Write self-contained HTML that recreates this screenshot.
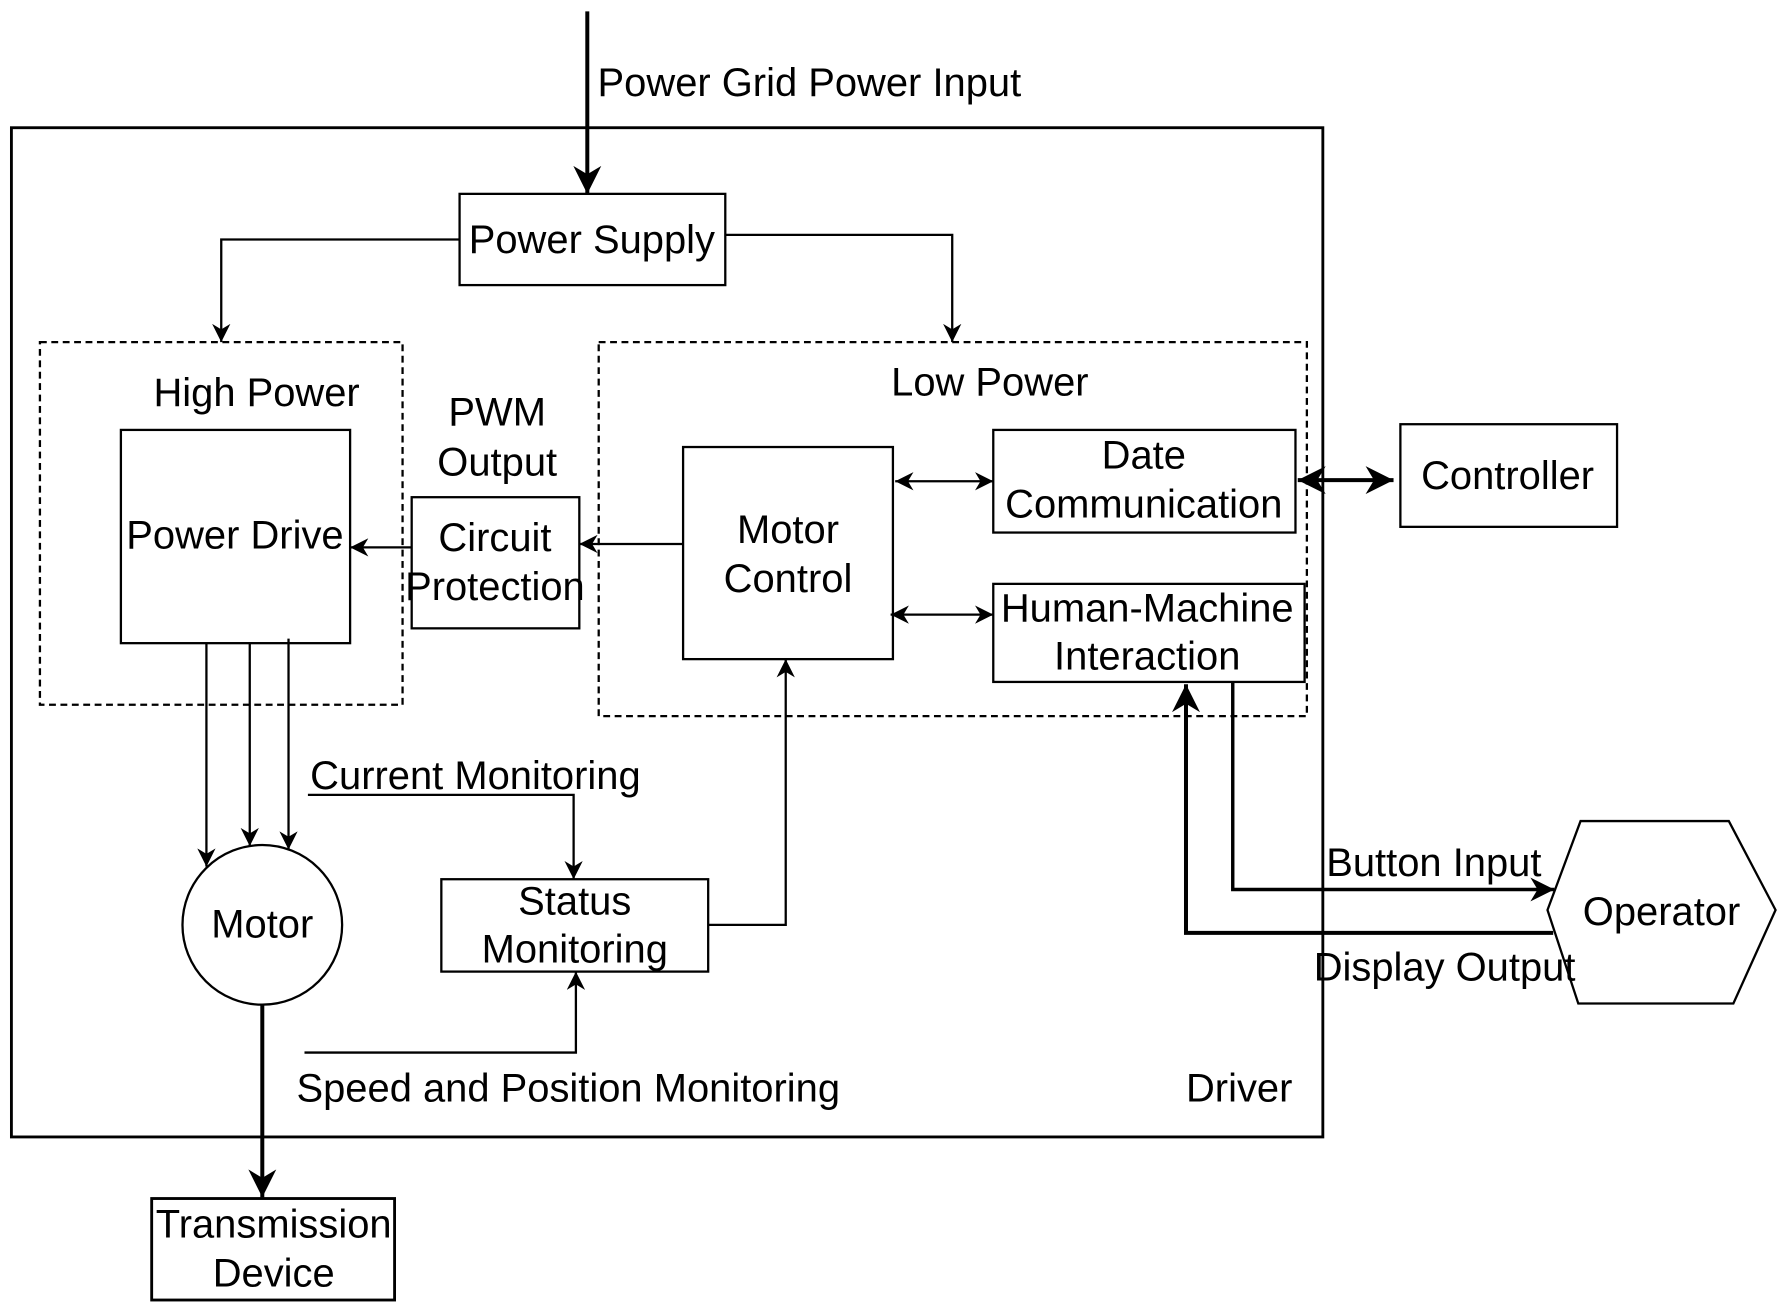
<!DOCTYPE html>
<html><head><style>html,body{margin:0;padding:0;background:#fff}svg{display:block}text{font-family:"Liberation Sans",Arial,Helvetica,sans-serif;font-size:35px;fill:#000}</style></head>
<body>
<svg width="1779" height="1308" viewBox="0 0 1560 1147" xmlns="http://www.w3.org/2000/svg" font-family="Liberation Sans, Arial, sans-serif">
<defs>
<marker id="b" viewBox="0 0 10 10" refX="10" refY="5" markerWidth="7" markerHeight="7" orient="auto-start-reverse"><path d="M0,0 L10,5 L0,10 L3,5z" fill="#000"/></marker>
<marker id="s" viewBox="0 0 10 10" refX="10" refY="5" markerWidth="16" markerHeight="16" markerUnits="userSpaceOnUse" orient="auto-start-reverse"><path d="M0,0 L10,5 L0,10 L3,5z" fill="#000"/></marker>
</defs>
<g fill="none" stroke="#000">
<rect x="10" y="112" width="1150" height="885" stroke-width="2.5"/>
<rect x="35" y="300" width="318" height="318" stroke-width="2" stroke-dasharray="6,4"/>
<rect x="525" y="300" width="621" height="328" stroke-width="2" stroke-dasharray="6,4"/>
<g stroke-width="2">
<rect x="403" y="170" width="233" height="80"/>
<rect x="106" y="377" width="201" height="187"/>
<rect x="361" y="436" width="147" height="115"/>
<rect x="599" y="392" width="184" height="186"/>
<rect x="871" y="377" width="265" height="90"/>
<rect x="871" y="512" width="273" height="86"/>
<rect x="1228" y="372" width="190" height="90"/>
<rect x="387" y="771" width="234" height="81"/>
<rect x="133" y="1051" width="213" height="89" stroke-width="2.5"/>
<circle cx="230" cy="811" r="70"/>
<polygon points="1357,798 1386,720 1516,720 1557,798 1520,880 1384,880"/>
</g>
<g stroke-width="2">
<path d="M403,210 H194 V300" marker-end="url(#s)"/>
<path d="M636,206 H835 V300" marker-end="url(#s)"/>
<path d="M361,480 H307" marker-end="url(#s)"/>
<path d="M599,477 H508" marker-end="url(#s)"/>
<path d="M785,422 H871" marker-start="url(#s)" marker-end="url(#s)"/>
<path d="M781,539 H871" marker-start="url(#s)" marker-end="url(#s)"/>
<path d="M181,564 V760" marker-end="url(#s)"/>
<path d="M219,564 V742" marker-end="url(#s)"/>
<path d="M253,560 V745" marker-end="url(#s)"/>
<path d="M270,697 H503 V771" marker-end="url(#s)"/>
<path d="M621,811 H689 V578" marker-end="url(#s)"/>
<path d="M267,923 H505 V852" marker-end="url(#s)"/>
</g>
<g stroke-width="3.5">
<path d="M515,10 V170" marker-end="url(#b)"/>
<path d="M1138,421 H1222" marker-start="url(#b)" marker-end="url(#b)"/>
<path d="M230,881 V1050" marker-end="url(#b)"/>
<path d="M1081,598 V780 H1363" stroke-width="3" marker-end="url(#b)"/>
<path d="M1362,818 H1040 V600" marker-end="url(#b)"/>
</g>
</g>
<text x="524" y="84">Power Grid Power Input</text>
<g text-anchor="middle">
<text x="519" y="222">Power Supply</text>
<text x="225" y="356">High Power</text>
<text x="206" y="481">Power Drive</text>
<text x="436" y="373">PWM</text>
<text x="436" y="417">Output</text>
<text x="434" y="483">Circuit</text>
<text x="434" y="526">Protection</text>
<text x="868" y="347">Low Power</text>
<text x="691" y="476">Motor</text>
<text x="691" y="519">Control</text>
<text x="1003" y="411">Date</text>
<text x="1003" y="454">Communication</text>
<text x="1006" y="545">Human-Machine</text>
<text x="1006" y="587">Interaction</text>
<text x="1322" y="429">Controller</text>
<text x="230" y="822">Motor</text>
<text x="504" y="802">Status</text>
<text x="504" y="844">Monitoring</text>
<text x="240" y="1085">Transmission</text>
<text x="240" y="1128">Device</text>
<text x="1457" y="811">Operator</text>
</g>
<text x="272" y="692">Current Monitoring</text>
<text x="260" y="966">Speed and Position Monitoring</text>
<text x="1040" y="966">Driver</text>
<text x="1163" y="768">Button Input</text>
<text x="1152" y="860">Display Output</text>
</svg>
</body></html>
